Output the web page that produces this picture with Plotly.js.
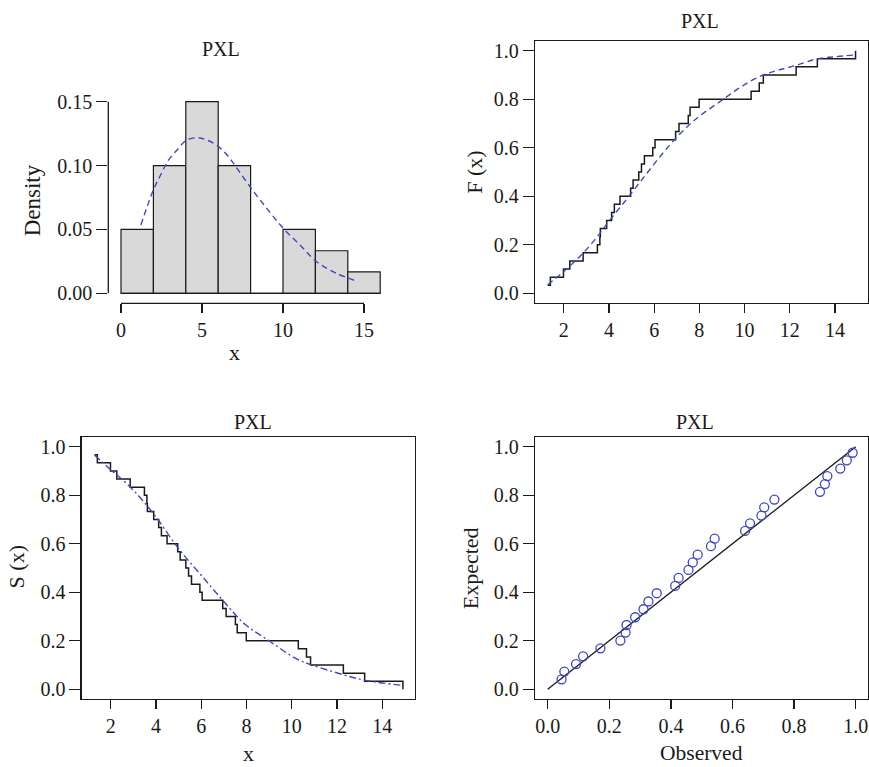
<!DOCTYPE html>
<html><head><meta charset="utf-8">
<script src="https://cdn.plot.ly/plotly-3.0.1.min.js"></script>
<style>html,body{margin:0;padding:0;background:#fff}#chart{width:869px;height:767px}</style>
</head><body><div id="chart"></div>
<script>
// ---------- data ----------
const binEdges = [0, 2, 4, 6, 8, 10, 12, 14, 16];
const densities = [0.05, 0.10, 0.15, 0.10, 0.0, 0.05, 0.0333, 0.0167];
const pdfX = [1.23, 2.0, 2.5, 2.92, 3.5, 4.05, 4.77, 5.3, 5.9, 6.5, 7.04, 7.96, 9.0, 10.02, 11.05, 12.08, 13.31, 14.65];
const pdfY = [0.0535, 0.081, 0.094, 0.104, 0.1127, 0.120, 0.1218, 0.120, 0.116, 0.109, 0.100, 0.0835, 0.0665, 0.0508, 0.0378, 0.0247, 0.0156, 0.0091];
const obs = [1.29, 1.41, 1.99, 2.27, 2.86, 3.49, 3.60, 3.62, 3.90, 4.12, 4.24, 4.49, 4.96, 5.07, 5.32, 5.44, 5.57, 5.94, 6.04, 6.95, 7.10, 7.51, 7.59, 7.99, 10.29, 10.65, 10.83, 12.28, 13.22, 14.91];
const cdfX = [1.29, 2.0, 2.87, 3.5, 3.9, 4.5, 4.93, 5.37, 5.74, 6.3, 6.85, 7.5, 8.0, 9.06, 10.0, 10.83, 11.5, 12.3, 13.19, 14.0, 14.81];
const cdfY = [0.035, 0.09, 0.167, 0.235, 0.285, 0.355, 0.405, 0.458, 0.502, 0.568, 0.628, 0.69, 0.73, 0.80, 0.86, 0.90, 0.92, 0.94, 0.966, 0.975, 0.982];
const survX = [1.28, 2.0, 2.85, 3.88, 4.99, 6.0, 6.95, 7.93, 9.0, 10.2, 10.9, 12.28, 13.3, 14.93];
const survY = [0.966, 0.905, 0.835, 0.725, 0.581, 0.47, 0.367, 0.268, 0.2, 0.126, 0.1, 0.06, 0.036, 0.016];
const ppObs = [0.045, 0.054, 0.092, 0.115, 0.171, 0.236, 0.253, 0.256, 0.284, 0.311, 0.327, 0.354, 0.414, 0.425, 0.457, 0.471, 0.487, 0.530, 0.542, 0.641, 0.657, 0.694, 0.703, 0.736, 0.884, 0.900, 0.908, 0.950, 0.971, 0.990];
const ppExp = [0.041, 0.073, 0.104, 0.136, 0.169, 0.201, 0.234, 0.265, 0.297, 0.330, 0.362, 0.396, 0.426, 0.459, 0.492, 0.523, 0.555, 0.590, 0.621, 0.653, 0.684, 0.716, 0.750, 0.782, 0.814, 0.846, 0.879, 0.910, 0.944, 0.975];
const refLine = [0, 1];
const panelTitle = 'PXL';
const hxTicks = [0, 5, 10, 15];
const hyTicks = [0, 0.05, 0.10, 0.15];
const hyTickText = ['0.00', '0.05', '0.10', '0.15'];
const xTicks = [2, 4, 6, 8, 10, 12, 14];
const pTicks = [0, 0.2, 0.4, 0.6, 0.8, 1.0];
const pTickText = ['0.0', '0.2', '0.4', '0.6', '0.8', '1.0'];

// ---------- derived ----------
const n = obs.length;
const ecdfY = obs.map((v, i) => (i + 1) / n);
const survStepY = obs.map((v, i) => 1 - (i + 1) / n);
const barX = densities.map((d, i) => (binEdges[i] + binEdges[i + 1]) / 2);
const barW = densities.map((d, i) => binEdges[i + 1] - binEdges[i]);

// ---------- geometry helpers ----------
const W = 869, H = 767;
const xdom = (p0, p1) => [p0 / W, p1 / W];
const ydom = (top, bottom) => [1 - bottom / H, 1 - top / H];
function rng(d0, d1, v1, p1, v2, p2) { const b = (p2 - p1) / (v2 - v1); return [v1 + (d0 - p1) / b, v1 + (d1 - p1) / b]; }

const FONT = '"Liberation Serif", "Times New Roman", serif';
const INK = '#1a1a1a';
const BLUE = '#3f48c0';
function ax(extra) {
  return Object.assign({
    showgrid: false, zeroline: false, ticks: 'outside', ticklen: 11, tickwidth: 1.2, tickcolor: INK,
    tickfont: { family: FONT, size: 20, color: INK }, showline: true, mirror: true, linecolor: INK,
    linewidth: 1.3, fixedrange: true, tickmode: 'array'
  }, extra);
}

const traces = [
  { type: 'bar', x: barX, y: densities, width: barW, xaxis: 'x', yaxis: 'y',
    marker: { color: '#d9d9d9', line: { color: INK, width: 1.2 } }, hoverinfo: 'skip' },
  { type: 'scatter', mode: 'lines', x: pdfX, y: pdfY, xaxis: 'x', yaxis: 'y',
    line: { color: BLUE, width: 1.4, dash: '6px,4px', shape: 'spline' } },
  { type: 'scatter', mode: 'lines', x: obs, y: ecdfY, xaxis: 'x2', yaxis: 'y2',
    line: { color: INK, width: 1.5, shape: 'hv' } },
  { type: 'scatter', mode: 'lines', x: cdfX, y: cdfY, xaxis: 'x2', yaxis: 'y2',
    line: { color: BLUE, width: 1.4, dash: '6px,4px', shape: 'spline' } },
  { type: 'scatter', mode: 'lines', x: obs, y: survStepY, xaxis: 'x3', yaxis: 'y3',
    line: { color: INK, width: 1.5, shape: 'hv' } },
  { type: 'scatter', mode: 'lines', x: survX, y: survY, xaxis: 'x3', yaxis: 'y3',
    line: { color: BLUE, width: 1.4, dash: '7px,3px,2px,3px', shape: 'spline' } },
  { type: 'scatter', mode: 'lines', x: refLine, y: refLine, xaxis: 'x4', yaxis: 'y4',
    line: { color: INK, width: 1.3 } },
  { type: 'scatter', mode: 'markers', x: ppObs, y: ppExp, xaxis: 'x4', yaxis: 'y4',
    marker: { symbol: 'circle-open', size: 9, color: BLUE, line: { color: BLUE, width: 1.3 } } }
];

function ann(text, px, py, size, extra) {
  return Object.assign({ text: text, xref: 'paper', yref: 'paper', x: px / W, y: 1 - py / H,
    xanchor: 'center', yanchor: 'middle', showarrow: false, font: { family: FONT, size: size, color: INK } }, extra || {});
}

const layout = {
  width: W, height: H, margin: { l: 0, r: 0, t: 0, b: 0 }, showlegend: false,
  paper_bgcolor: '#fff', plot_bgcolor: '#fff', bargap: 0,
  xaxis: ax({ domain: xdom(108.3, 392), range: rng(108.3, 392, 0, 121, 15, 364), anchor: 'y',
    showline: false, mirror: false, tickvals: hxTicks, ticktext: hxTicks.map(String), ticklen: 9 }),
  yaxis: ax({ domain: ydom(94, 303.3), range: rng(303.3, 94, 0, 293.3, 0.15, 101.7), anchor: 'x',
    showline: false, mirror: false, tickvals: hyTicks, ticktext: hyTickText }),
  xaxis2: ax({ domain: xdom(535, 868.3), range: rng(535, 868.3, 2, 563.7, 14, 835), anchor: 'y2',
    tickvals: xTicks, ticktext: xTicks.map(String), ticklen: 9 }),
  yaxis2: ax({ domain: ydom(41.3, 302.7), range: rng(302.7, 41.3, 0, 293.3, 1, 50.7), anchor: 'x2',
    tickvals: pTicks, ticktext: pTickText }),
  xaxis3: ax({ domain: xdom(81.7, 415), range: rng(81.7, 415, 2, 110.7, 14, 382.3), anchor: 'y3',
    tickvals: xTicks, ticktext: xTicks.map(String), ticklen: 9 }),
  yaxis3: ax({ domain: ydom(437.3, 699), range: rng(699, 437.3, 0, 689.3, 1, 446.7), anchor: 'x3',
    tickvals: pTicks, ticktext: pTickText }),
  xaxis4: ax({ domain: xdom(535, 868.3), range: rng(535, 868.3, 0, 547.7, 1, 855.7), anchor: 'y4',
    tickvals: pTicks, ticktext: pTickText, ticklen: 9 }),
  yaxis4: ax({ domain: ydom(437.3, 699), range: rng(699, 437.3, 0, 689.3, 1, 446.7), anchor: 'x4',
    tickvals: pTicks, ticktext: pTickText }),
  shapes: [
    { type: 'line', layer: 'above', xref: 'x domain', x0: 0, x1: 0, yref: 'y', y0: hyTicks[0], y1: hyTicks[hyTicks.length - 1], line: { color: INK, width: 1.3 } },
    { type: 'line', layer: 'above', xref: 'x', x0: hxTicks[0], x1: hxTicks[hxTicks.length - 1], yref: 'y domain', y0: 0, y1: 0, line: { color: INK, width: 1.3 } },
    { type: 'line', layer: 'above', xref: 'x', x0: binEdges[0], x1: binEdges[binEdges.length - 1], yref: 'y', y0: 0, y1: 0, line: { color: INK, width: 1.2 } }
  ],
  annotations: [
    ann(panelTitle, 220.7, 49, 20),
    ann(panelTitle, 700, 21, 20),
    ann(panelTitle, 253.3, 422.3, 20),
    ann(panelTitle, 695, 422.3, 20),
    ann('Density', 33.3, 200, 23, { textangle: -90 }),
    ann('x', 235, 352, 22),
    ann('F (x)', 475, 172.7, 22, { textangle: -90 }),
    ann('S (x)', 16.7, 566.7, 22, { textangle: -90 }),
    ann('x', 248.3, 753, 22),
    ann('Expected', 470, 568.3, 22, { textangle: -90 }),
    ann('Observed', 701.7, 753, 21.5)
  ]
};

Plotly.newPlot('chart', traces, layout, { staticPlot: true, displayModeBar: false });
</script>
</body></html>
